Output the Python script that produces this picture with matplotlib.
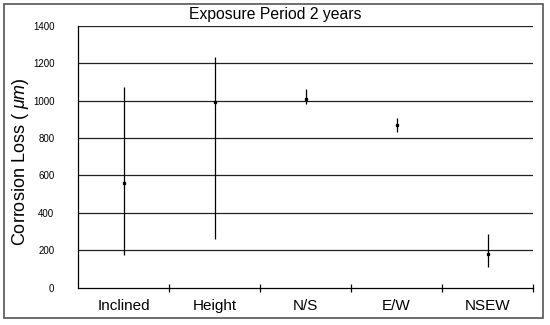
import numpy as np
import matplotlib.pyplot as plt
from matplotlib.patches import Rectangle

plt.rcParams['font.family'] = ['Liberation Sans', 'DejaVu Sans']
plt.rcParams['mathtext.fontset'] = 'custom'
plt.rcParams['mathtext.it'] = 'Liberation Sans:italic'
plt.rcParams['mathtext.rm'] = 'Liberation Sans'

# data
categories = ['Inclined', 'Height', 'N/S', 'E/W', 'NSEW']
mean_loss = [560, 991, 1009, 872, 179]
upper_loss = [1073, 1234, 1061, 906, 286]
lower_loss = [174, 261, 981, 831, 111]
y_ticks = [0, 200, 400, 600, 800, 1000, 1200, 1400]

mean_loss = np.array(mean_loss)
yerr = [mean_loss - np.array(lower_loss), np.array(upper_loss) - mean_loss]
x = np.arange(len(categories))

fig = plt.figure(figsize=(5.5, 3.25), dpi=100)
ax = fig.add_axes([78/550, 1 - 287.5/325, 455/550, 261.5/325])

# outer frame round the whole chart
fig.patches.append(Rectangle((4/550, 7/325), 539/550, 314/325, transform=fig.transFigure,
                             fill=False, edgecolor='#555555', linewidth=1.2))

for t in y_ticks[1:]:
    ax.axhline(t, color='#222222', linewidth=0.9, zorder=1)

ax.errorbar(x, mean_loss, yerr=yerr, fmt='s', color='black', markersize=1.4,
            elinewidth=0.9, capsize=0, zorder=3)

ax.set_xlim(-0.5, len(categories) - 0.5)
ax.set_ylim(0, 1400)
ax.set_yticks(y_ticks)
ax.set_yticklabels([str(t) for t in y_ticks], fontsize=7)
ax.tick_params(axis='y', length=0, pad=17)

ax.set_xticks(x)
ax.set_xticklabels(categories, fontsize=11)
ax.tick_params(axis='x', length=0, pad=8)
# category separators on the x axis
ax.set_xticks(np.arange(len(categories)) + 0.5, minor=True)
ax.tick_params(axis='x', which='minor', direction='inout', length=6, width=0.9)

for s in ['top', 'right']:
    ax.spines[s].set_visible(False)
ax.spines['left'].set_linewidth(0.9)
ax.spines['bottom'].set_linewidth(0.9)

fig.text(21/550, 1 - 162/325, r'Corrosion Loss ( $\mu m$)', fontsize=13,
         rotation=90, ha='center', va='center')
fig.text(0.5, 1 - 15/325, 'Exposure Period 2 years', fontsize=11.3,
         ha='center', va='center')

fig.savefig('out.png', dpi=100)
